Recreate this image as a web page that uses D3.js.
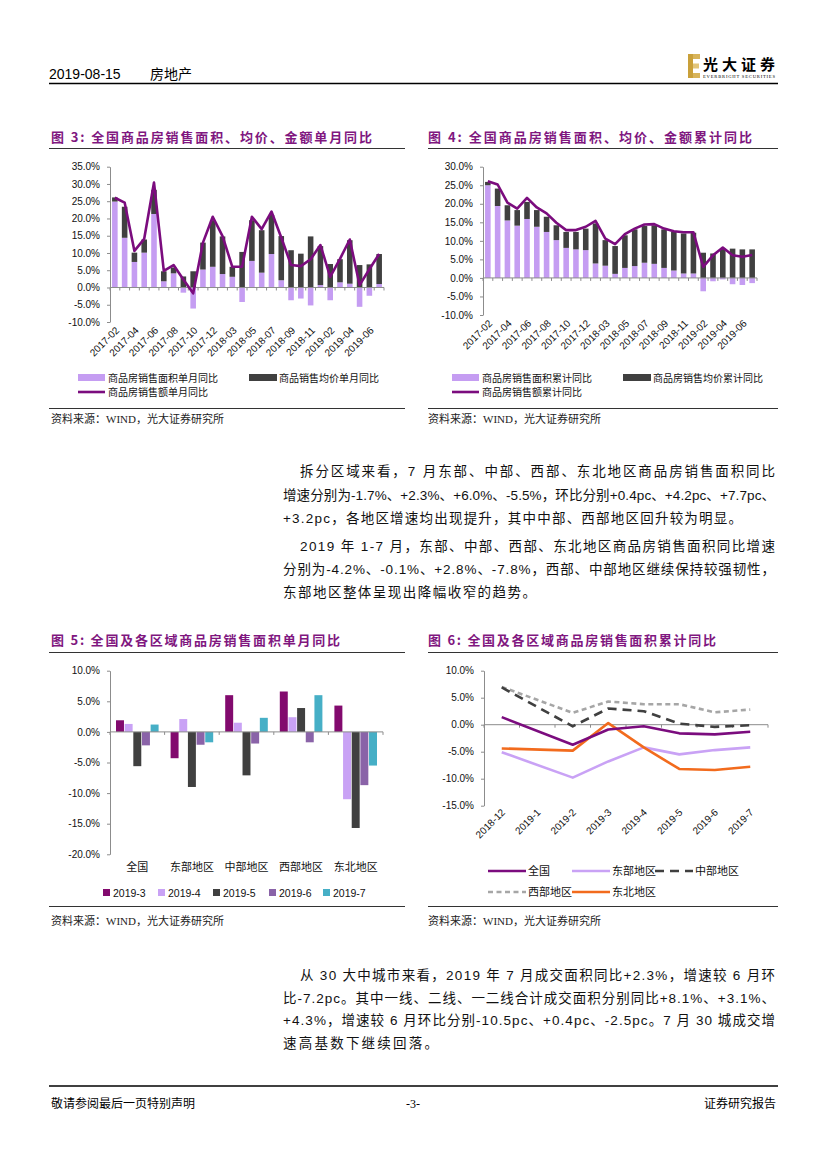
<!DOCTYPE html>
<html><head><meta charset="utf-8">
<script src="https://cdn.jsdelivr.net/npm/d3@7"></script>
<style>body{margin:0;background:#fff}</style>
</head><body>
<svg id="page" width="827" height="1169"></svg>
<script>
// ---------- data ----------
const months = ["2017-02","2017-03","2017-04","2017-05","2017-06","2017-07","2017-08","2017-09","2017-10","2017-11","2017-12",
  "2018-02","2018-03","2018-04","2018-05","2018-06","2018-07","2018-08","2018-09","2018-10","2018-11","2018-12",
  "2019-02","2019-03","2019-04","2019-05","2019-06","2019-07"];
// Fig 3: single month YoY (%)
const monthlyArea   = [24.9,14.4,7.4,10.1,21.3,1.8,4.1,-1.5,-6.1,5.2,6.0,3.9,3.1,-4.2,7.7,4.3,9.7,2.1,-3.7,-3.2,-5.2,0.7,-3.7,1.5,1.1,-5.6,-2.4,1.0];
const monthlyPrice  = [1.2,9.0,2.7,3.8,7.0,2.9,1.7,3.2,4.7,7.8,13.5,10.9,2.9,10.3,11.8,12.3,11.3,12.8,10.8,9.8,14.8,11.3,6.8,6.7,12.6,6.5,6.7,8.7];
const monthlyAmount = [26.0,24.6,10.6,14.1,30.4,4.8,6.5,2.3,-1.7,13.0,20.5,14.9,6.0,6.0,20.5,16.9,22.0,14.5,6.5,6.2,8.2,12.3,3.1,8.3,13.9,0.7,5.3,9.7];
// Fig 4: cumulative YoY (%)
const cumArea   = [25.0,19.4,15.5,14.1,15.9,13.8,12.4,10.2,8.1,7.7,7.5,3.9,3.3,1.1,2.7,3.2,4.1,3.8,2.7,2.0,1.2,1.2,-3.6,-0.9,-0.4,-1.7,-1.9,-1.4];
const cumPrice  = [0.9,4.7,4.1,4.2,4.6,4.5,4.1,4.0,4.3,4.7,5.8,10.8,6.9,7.5,8.8,9.9,9.9,10.4,10.4,10.4,10.8,11.0,6.8,6.6,7.9,7.9,7.7,7.7];
const cumAmount = [26.1,25.2,20.3,18.7,21.6,19.0,17.4,14.9,12.9,12.9,13.8,15.4,10.6,9.1,11.8,13.3,14.4,14.5,13.3,12.6,12.3,12.3,3.0,6.1,8.2,6.1,5.7,6.2];
// Fig 5: regional single month YoY (%)
const regions = ["全国","东部地区","中部地区","西部地区","东北地区"];
const months5 = ["2019-3","2019-4","2019-5","2019-6","2019-7"];
const r2019_3 = [1.9,-4.3,6.0,6.6,4.3];
const r2019_4 = [1.3,2.1,1.5,2.4,-11.0];
const r2019_5 = [-5.6,-9.0,-7.1,3.9,-15.7];
const r2019_6 = [-2.2,-2.1,-1.9,-1.7,-8.7];
const r2019_7 = [1.2,-1.7,2.3,6.0,-5.5];
// Fig 6: regional cumulative YoY (%), 2019-1 not published
const months6 = ["2018-12","2019-1","2019-2","2019-3","2019-4","2019-5","2019-6","2019-7"];
const cNational  = [1.4,null,-3.7,-0.9,-0.3,-1.6,-1.8,-1.3];
const cEast      = [-5.1,null,-9.8,-6.8,-4.2,-5.5,-4.7,-4.2];
const cCentral   = [6.9,null,-0.3,3.0,2.5,0.2,-0.4,-0.1];
const cWest      = [7.0,null,2.2,4.3,3.8,3.8,2.3,2.8];
const cNortheast = [-4.4,null,-4.8,0.3,-4.2,-8.2,-8.4,-7.8];

// ---------- styles ----------
const LAV = "#C59DF2", DARK = "#404040", PURP = "#7B0C7E", AXIS = "#8C8C8C";
const FONT = "'Liberation Sans','Noto Sans CJK SC',sans-serif";
const CJK = "'Noto Sans CJK SC','Liberation Sans',sans-serif";
const SERIF = "'Liberation Serif','Noto Sans CJK SC',serif";

const svg = d3.select("#page");
svg.append("rect").attr("width",827).attr("height",1169).attr("fill","#fff");

function txt(x,y,s,o={}){
  const t = svg.append("text").attr("x",x).attr("y",y).text(s)
    .attr("font-family",o.family||FONT).attr("font-size",o.size||12)
    .attr("fill",o.fill||"#000");
  if(o.weight) t.attr("font-weight",o.weight);
  if(o.anchor) t.attr("text-anchor",o.anchor);
  if(o.len){ t.attr("textLength",o.len).attr("lengthAdjust","spacing"); }
  return t;
}
function rule(x1,x2,y,w=1,c="#333"){
  svg.append("line").attr("x1",x1).attr("x2",x2).attr("y1",y).attr("y2",y).attr("stroke",c).attr("stroke-width",w);
}

// ---------- header ----------
txt(49,79,"2019-08-15",{size:14});
txt(150,79,"房地产",{size:14,family:CJK});
rule(49,778,83.5,1.5,"#000");
// logo
const logo = svg.append("g");
logo.append("rect").attr("x",688).attr("y",54).attr("width",5).attr("height",24).attr("fill","#C9A03A");
logo.append("rect").attr("x",693).attr("y",54).attr("width",7).attr("height",5).attr("fill","#D8B45A");
logo.append("rect").attr("x",693).attr("y",63.5).attr("width",6).attr("height",5).attr("fill","#E2C57A");
logo.append("rect").attr("x",693).attr("y",73).attr("width",7).attr("height",5).attr("fill","#D8B45A");
txt(703,70,"光大证券",{size:15,weight:"bold",family:"'Noto Sans CJK SC',serif",len:72});
txt(703,77.5,"EVERBRIGHT SECURITIES",{size:4.6,len:72,family:SERIF});

// ---------- figure titles & frame rules ----------
const TITLE = "#80177F";
txt(51,142,"图 3: 全国商品房销售面积、均价、金额单月同比",{size:13,weight:"bold",fill:TITLE,family:CJK,len:321});
txt(428,142,"图 4: 全国商品房销售面积、均价、金额累计同比",{size:13,weight:"bold",fill:TITLE,family:CJK,len:324});
rule(49,405,148.5,1.2); rule(428,778,148.5,1.2);
rule(49,405,408.5,1); rule(428,778,408.5,1);
txt(51,423,"资料来源：WIND，光大证券研究所",{size:11,family:SERIF,fill:"#222"});
txt(428,423,"资料来源：WIND，光大证券研究所",{size:11,family:SERIF,fill:"#222"});

txt(51,645,"图 5: 全国及各区域商品房销售面积单月同比",{size:13,weight:"bold",fill:TITLE,family:CJK,len:289});
txt(428,645,"图 6: 全国及各区域商品房销售面积累计同比",{size:13,weight:"bold",fill:TITLE,family:CJK,len:288});
rule(49,405,652.5,1.2); rule(428,778,652.5,1.2);
rule(49,405,906.5,1); rule(428,778,906.5,1);
txt(51,925,"资料来源：WIND，光大证券研究所",{size:11,family:SERIF,fill:"#222"});
txt(428,925,"资料来源：WIND，光大证券研究所",{size:11,family:SERIF,fill:"#222"});

// ---------- helpers ----------
function yAxis(g,y,x0,dom,step){
  const ax = d3.axisLeft(y).tickValues(d3.range(dom[0],dom[1]+0.01,step))
    .tickFormat(d=>d.toFixed(1)+"%").tickSizeInner(3).tickSizeOuter(0).tickPadding(7);
  const a = g.append("g").attr("transform",`translate(${x0},0)`).call(ax);
  a.select(".domain").attr("stroke",AXIS);
  a.selectAll(".tick line").attr("stroke",AXIS);
  a.selectAll(".tick text").attr("font-family",FONT).attr("font-size",10).attr("fill","#111");
}
function zeroAxis(g,x,y,n){
  const r = x.range(), step = (r[1]-r[0])/n, y0 = y(0);
  g.append("line").attr("x1",r[0]).attr("x2",r[1]).attr("y1",y0).attr("y2",y0).attr("stroke",AXIS).attr("stroke-width",1);
  g.selectAll(null).data(d3.range(n+1)).enter().append("line")
    .attr("x1",i=>r[0]+i*step).attr("x2",i=>r[0]+i*step)
    .attr("y1",y0).attr("y2",y0+3).attr("stroke",AXIS);
}

// ---------- stacked charts (fig 3/4) ----------
function stacked(cfg){
  const g = svg.append("g");
  const x = d3.scaleBand().domain(months).range([cfg.x0,cfg.x1]).paddingInner(0.43).paddingOuter(0.21);
  const y = d3.scaleLinear().domain(cfg.dom).range([cfg.yb,cfg.yt]);
  yAxis(g,y,cfg.x0,cfg.dom,5);
  const data = months.map((m,i)=>({m,a:cfg.area[i],p:cfg.price[i],t:cfg.amount[i]}));
  g.selectAll(".lav").data(data).enter().append("rect")
    .attr("x",d=>x(d.m)).attr("width",x.bandwidth())
    .attr("y",d=>y(Math.max(d.a,0))).attr("height",d=>Math.abs(y(d.a)-y(0)))
    .attr("fill",LAV);
  g.selectAll(".drk").data(data).enter().append("rect")
    .attr("x",d=>x(d.m)).attr("width",x.bandwidth())
    .attr("y",d=>y(Math.max(d.a,0)+d.p)).attr("height",d=>Math.abs(y(d.p)-y(0)))
    .attr("fill",DARK);
  zeroAxis(g,x,y,months.length);
  const line = d3.line().x(d=>x(d.m)+x.bandwidth()/2).y(d=>y(d.t));
  g.append("path").datum(data).attr("d",line).attr("fill","none").attr("stroke",PURP)
    .attr("stroke-width",2.6).attr("stroke-linejoin","round");
  g.selectAll(".xl").data(months.filter((m,i)=>i%2===0)).enter().append("text")
    .attr("transform",m=>`translate(${x(m)+x.bandwidth()/2+5},${cfg.yb+9}) rotate(-45)`)
    .attr("text-anchor","end").attr("font-family",FONT).attr("font-size",10).attr("fill","#111").text(m=>m);
  // legend
  const L = cfg.legend;
  g.append("rect").attr("x",L.x1).attr("y",374).attr("width",27).attr("height",7).attr("fill",LAV);
  g.append("text").attr("x",L.x1+30).attr("y",381.5).text(L.t1).attr("font-family",CJK).attr("font-size",10).attr("fill","#111");
  g.append("rect").attr("x",L.x2).attr("y",374).attr("width",28).attr("height",7).attr("fill",DARK);
  g.append("text").attr("x",L.x2+30).attr("y",381.5).text(L.t2).attr("font-family",CJK).attr("font-size",10).attr("fill","#111");
  g.append("line").attr("x1",L.x1).attr("x2",L.x1+27).attr("y1",392).attr("y2",392).attr("stroke",PURP).attr("stroke-width",2.6);
  g.append("text").attr("x",L.x1+30).attr("y",395.5).text(L.t3).attr("font-family",CJK).attr("font-size",10).attr("fill","#111");
}
stacked({x0:110,x1:384,yt:166.7,yb:322,dom:[-10,35],area:monthlyArea,price:monthlyPrice,amount:monthlyAmount,
  legend:{x1:78,x2:249,t1:"商品房销售面积单月同比",t2:"商品销售均价单月同比",t3:"商品房销售额单月同比"}});
stacked({x0:483,x1:757,yt:166.7,yb:315,dom:[-10,30],area:cumArea,price:cumPrice,amount:cumAmount,
  legend:{x1:452,x2:623,t1:"商品房销售面积累计同比",t2:"商品房销售均价累计同比",t3:"商品房销售额累计同比"}});

// ---------- fig 5 grouped bars ----------
(function(){
  const g = svg.append("g");
  const series = [r2019_3,r2019_4,r2019_5,r2019_6,r2019_7];
  const colors = ["#820A6E","#C9A2F5","#404040","#8A63A8","#46AFC6"];
  const x0 = d3.scaleBand().domain(regions).range([110,383]).paddingInner(0.22).paddingOuter(0.11);
  const xi = d3.scaleBand().domain(months5).range([0,x0.bandwidth()]).paddingInner(0.08);
  const y = d3.scaleLinear().domain([-20,10]).range([854.3,670.7]);
  yAxis(g,y,110,[-20,10],5);
  regions.forEach((r,ri)=>{
    months5.forEach((m,mi)=>{
      const v = series[mi][ri];
      g.append("rect").attr("x",x0(r)+xi(m)).attr("width",xi.bandwidth())
        .attr("y",y(Math.max(v,0))).attr("height",Math.abs(y(v)-y(0))).attr("fill",colors[mi]);
    });
  });
  const xr = d3.scaleBand().domain(regions).range([110,383]);
  zeroAxis(g,xr,y,regions.length);
  g.selectAll(".cl").data(regions).enter().append("text")
    .attr("x",r=>xr(r)+xr.bandwidth()/2).attr("y",871).attr("text-anchor","middle")
    .attr("font-family",CJK).attr("font-size",11).attr("fill","#111").text(r=>r);
  const lx = [103,158,213,269,323];
  months5.forEach((m,i)=>{
    g.append("rect").attr("x",lx[i]).attr("y",889).attr("width",7).attr("height",7).attr("fill",colors[i]);
    g.append("text").attr("x",lx[i]+10).attr("y",896.5).text(m).attr("font-family",FONT).attr("font-size",10.5).attr("fill","#111");
  });
})();

// ---------- fig 6 lines ----------
(function(){
  const g = svg.append("g");
  const x = d3.scaleBand().domain(months6).range([484,768]);
  const y = d3.scaleLinear().domain([-15,10]).range([805.7,670.7]);
  yAxis(g,y,484,[-15,10],5);
  zeroAxis(g,x,y,months6.length);
  const defs = [
    {name:"全国",v:cNational,c:PURP,dash:null},
    {name:"东部地区",v:cEast,c:"#C9A2F5",dash:null},
    {name:"中部地区",v:cCentral,c:"#404040",dash:"9,6"},
    {name:"西部地区",v:cWest,c:"#A6A6A6",dash:"5,3.5"},
    {name:"东北地区",v:cNortheast,c:"#F26B1D",dash:null}
  ];
  const line = d3.line().x(d=>x(d.m)+x.bandwidth()/2).y(d=>y(d.v));
  const order = [3,2,1,4,0];
  order.forEach(k=>{
    const s = defs[k];
    const pts = months6.map((m,i)=>({m,v:s.v[i]})).filter(d=>d.v!==null);
    const p = g.append("path").datum(pts).attr("d",line).attr("fill","none")
      .attr("stroke",s.c).attr("stroke-width",2.6).attr("stroke-linejoin","round");
    if(s.dash) p.attr("stroke-dasharray",s.dash);
  });
  g.selectAll(".xl").data(months6).enter().append("text")
    .attr("transform",m=>`translate(${x(m)+x.bandwidth()/2+4},${813}) rotate(-45)`)
    .attr("text-anchor","end").attr("font-family",FONT).attr("font-size",10).attr("fill","#111").text(m=>m);
  const pos = [[488,871],[572,871],[655,871],[488,892],[572,892]];
  defs.forEach((s,i)=>{
    const [lx,ly] = pos[i];
    const l = g.append("line").attr("x1",lx).attr("x2",lx+38).attr("y1",ly).attr("y2",ly)
      .attr("stroke",s.c).attr("stroke-width",2.6);
    if(s.dash) l.attr("stroke-dasharray",s.dash);
    g.append("text").attr("x",lx+40).attr("y",ly+4).text(s.name).attr("font-family",CJK).attr("font-size",11).attr("fill","#111");
  });
})();

// ---------- body text ----------
const BODY = {size:13.5,family:FONT,fill:"#111"};
const para = [
  [300,476,"拆分区域来看，7 月东部、中部、西部、东北地区商品房销售面积同比",475],
  [283,500,"增速分别为-1.7%、+2.3%、+6.0%、-5.5%，环比分别+0.4pc、+4.2pc、+7.7pc、",492],
  [283,523,"+3.2pc，各地区增速均出现提升，其中中部、西部地区回升较为明显。",459],
  [300,551,"2019 年 1-7 月，东部、中部、西部、东北地区商品房销售面积同比增速",475],
  [283,574,"分别为-4.2%、-0.1%、+2.8%、-7.8%，西部、中部地区继续保持较强韧性，",492],
  [283,597,"东部地区整体呈现出降幅收窄的趋势。",253],
  [300,980,"从 30 大中城市来看，2019 年 7 月成交面积同比+2.3%，增速较 6 月环",475],
  [283,1003,"比-7.2pc。其中一线、二线、一二线合计成交面积分别同比+8.1%、+3.1%、",492],
  [283,1025,"+4.3%，增速较 6 月环比分别-10.5pc、+0.4pc、-2.5pc。7 月 30 城成交增",492],
  [283,1048,"速高基数下继续回落。",155]
];
para.forEach(p=>txt(p[0],p[1],p[2],Object.assign({len:p[3]},BODY)));

// ---------- footer ----------
rule(49,778,1086,1.6,"#000");
txt(51,1108,"敬请参阅最后一页特别声明",{size:12,family:CJK});
txt(413,1108,"-3-",{size:12,anchor:"middle",family:SERIF});
txt(776,1108,"证券研究报告",{size:12,family:CJK,anchor:"end"});
</script>
</body></html>
